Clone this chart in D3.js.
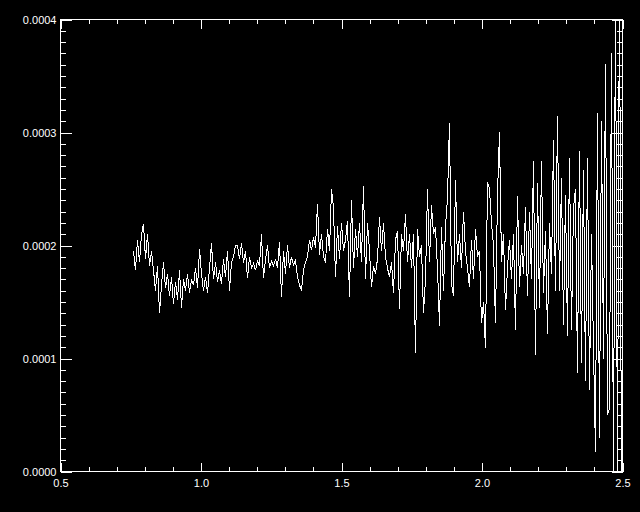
<!DOCTYPE html>
<html lang="en">
<head>
    <meta charset="UTF-8">
    <title>Spectrum plot</title>
    <style>
        body { margin: 0; background: #000; }
        svg { display: block; }
        .axis text { fill: #fff; }
        .axis line { stroke: #fff; shape-rendering: crispEdges; }
        .axis path { display: none; }
    </style>
</head>
<body>
    <div id="chart"></div>
    <script src="https://d3js.org/d3.v7.min.js"></script>
    <script>
        // Sampling grid (wavelength, evenly spaced)
        const xStart = 0.7598;
        const xStep = 0.007117;

        // Flux values, in units of 1e-4
        const flux = [
            1.95, 1.78, 2.05, 1.85, 2.10, 2.19, 1.88, 2.10, 1.82, 1.95,
            1.78, 1.60, 1.82, 1.40, 1.65, 1.85, 1.62, 1.75, 1.55, 1.72,
            1.48, 1.68, 1.52, 1.78, 1.45, 1.70, 1.60, 1.75, 1.58, 1.70,
            1.65, 1.80, 1.62, 1.97, 1.75, 1.60, 1.72, 1.58, 1.80, 2.02,
            1.70, 1.85, 1.68, 1.78, 1.66, 1.88, 1.72, 1.95, 1.60, 1.85,
            1.90, 2.00,
            2.00, 1.88, 2.02, 1.85, 1.95, 1.71, 1.90, 1.80, 1.84, 1.78,
            1.86, 1.82, 2.10, 1.71, 1.88, 2.00, 1.80, 1.86, 1.82, 1.88,
            1.80, 2.03, 1.54, 1.95, 1.75, 2.00, 1.80, 1.90, 1.83, 1.87,
            1.72, 1.65, 1.60, 1.78, 1.85, 1.90, 2.05, 1.96, 2.07, 1.98,
            2.37, 1.92, 2.10, 1.90, 1.85, 2.15, 1.95, 2.50, 2.34, 1.72,
            2.17, 1.88, 2.20, 1.95, 2.05,
            2.22, 1.54, 2.40, 1.80, 2.15, 1.90, 2.20, 1.85, 2.53, 1.70,
            2.20, 1.95, 1.63, 1.82, 1.75, 1.88, 2.25, 1.95, 2.20, 1.90,
            1.80, 1.72, 1.85, 1.58, 2.05, 2.13, 1.44, 2.10, 1.95, 2.28,
            1.85, 2.10, 1.80, 2.10, 1.05, 2.15, 1.90, 2.00, 1.40, 1.70,
            2.50, 1.85, 2.36, 2.10, 2.16, 1.80, 1.29, 2.16, 1.60, 2.17,
            2.42, 3.08, 1.66, 1.55,
            2.58, 1.85, 2.10, 1.80, 2.30, 1.95, 1.80, 1.63, 2.05, 1.70,
            2.15, 1.90, 1.95, 1.31, 1.50, 1.09, 2.56, 2.50, 2.20, 2.00,
            1.31, 2.45, 3.00, 1.85, 2.10, 1.43, 1.80, 2.05, 1.70, 2.10,
            1.25, 2.44, 1.63, 2.00, 1.75, 2.34, 1.55, 2.30, 1.70, 2.75,
            1.03, 2.55, 1.45, 2.75,
            1.58, 2.13, 1.22, 2.20, 1.75, 2.93, 1.60, 3.15, 1.60, 2.60,
            1.30, 2.45, 1.20, 2.77, 1.25, 2.33, 2.50, 0.87, 2.84, 0.96,
            2.67, 0.80, 2.77, 0.72, 2.10, 1.10, 0.17, 3.17, 0.30, 3.10,
            1.00, 3.61, 0.50, 0.56, 3.70, -0.10, 4.30, -0.10, 4.50, -0.20
        ];

        const xTicks = [0.5, 1.0, 1.5, 2.0, 2.5];
        const xTickLabels = ["0.5", "1.0", "1.5", "2.0", "2.5"];
        const yTicks = [0, 1, 2, 3, 4];
        const yTickLabels = ["0.0000", "0.0001", "0.0002", "0.0003", "0.0004"];

        const width = 640;
        const height = 512;
        const plotLeft = 60.5, plotRight = 622.5, plotTop = 19.5, plotBottom = 471.5;

        const svg = d3.select("#chart").append("svg")
            .attr("width", width)
            .attr("height", height);

        svg.append("rect")
            .attr("width", width)
            .attr("height", height)
            .attr("fill", "#000");

        const x = d3.scaleLinear().domain([0.5, 2.5]).range([plotLeft, plotRight]);
        const y = d3.scaleLinear().domain([0, 4]).range([plotBottom, plotTop]);

        const xMinor = d3.range(0.5, 2.5001, 0.1).filter(v => !xTicks.some(t => Math.abs(t - v) < 1e-6));
        const yMinor = d3.range(0, 4.0001, 0.1).filter(v => !yTicks.some(t => Math.abs(t - v) < 1e-6));

        const font = "'Liberation Sans', Arial, sans-serif";

        function styleAxis(g) {
            g.attr("class", "axis")
                .attr("font-family", font)
                .attr("font-size", 11);
        }

        // bottom
        svg.append("g")
            .attr("transform", `translate(0,${plotBottom})`)
            .call(d3.axisBottom(x).tickValues(xTicks)
                .tickFormat((d, i) => xTickLabels[i])
                .tickSizeInner(-9).tickSizeOuter(0).tickPadding(8))
            .call(styleAxis);
        svg.append("g")
            .attr("transform", `translate(0,${plotBottom})`)
            .call(d3.axisBottom(x).tickValues(xMinor).tickFormat("")
                .tickSizeInner(-4.5).tickSizeOuter(0))
            .call(styleAxis);

        // top
        svg.append("g")
            .attr("transform", `translate(0,${plotTop})`)
            .call(d3.axisTop(x).tickValues(xTicks).tickFormat("")
                .tickSizeInner(-9).tickSizeOuter(0))
            .call(styleAxis);
        svg.append("g")
            .attr("transform", `translate(0,${plotTop})`)
            .call(d3.axisTop(x).tickValues(xMinor).tickFormat("")
                .tickSizeInner(-4.5).tickSizeOuter(0))
            .call(styleAxis);

        // left
        svg.append("g")
            .attr("transform", `translate(${plotLeft},0)`)
            .call(d3.axisLeft(y).tickValues(yTicks)
                .tickFormat((d, i) => yTickLabels[i])
                .tickSizeInner(-11).tickSizeOuter(0).tickPadding(4))
            .call(styleAxis);
        svg.append("g")
            .attr("transform", `translate(${plotLeft},0)`)
            .call(d3.axisLeft(y).tickValues(yMinor).tickFormat("")
                .tickSizeInner(-5.5).tickSizeOuter(0))
            .call(styleAxis);

        // right
        svg.append("g")
            .attr("transform", `translate(${plotRight},0)`)
            .call(d3.axisRight(y).tickValues(yTicks).tickFormat("")
                .tickSizeInner(-11).tickSizeOuter(0))
            .call(styleAxis);
        svg.append("g")
            .attr("transform", `translate(${plotRight},0)`)
            .call(d3.axisRight(y).tickValues(yMinor).tickFormat("")
                .tickSizeInner(-5.5).tickSizeOuter(0))
            .call(styleAxis);

        // frame
        svg.append("rect")
            .attr("x", plotLeft).attr("y", plotTop)
            .attr("width", plotRight - plotLeft).attr("height", plotBottom - plotTop)
            .attr("fill", "none")
            .attr("stroke", "#fff")
            .attr("shape-rendering", "crispEdges");

        svg.append("clipPath").attr("id", "plot-clip")
            .append("rect")
            .attr("x", plotLeft).attr("y", plotTop)
            .attr("width", plotRight - plotLeft).attr("height", plotBottom - plotTop);

        const line = d3.line()
            .x((d, i) => x(xStart + i * xStep))
            .y(d => y(d));

        // aliased line, like the original device output
        svg.append("path")
            .datum(flux)
            .attr("clip-path", "url(#plot-clip)")
            .attr("fill", "none")
            .attr("stroke", "#fff")
            .attr("stroke-width", 1)
            .attr("shape-rendering", "crispEdges")
            .attr("d", line);
    </script>
</body>
</html>
